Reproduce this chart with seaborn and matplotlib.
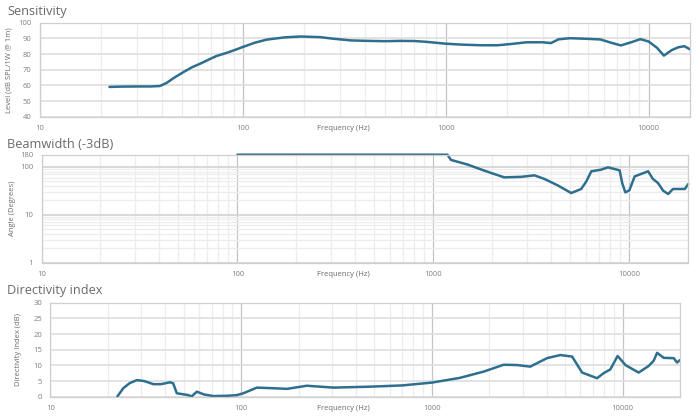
import numpy as np
import pandas as pd
import matplotlib
matplotlib.use("Agg")
import matplotlib.pyplot as plt
import matplotlib.ticker as mticker
import seaborn as sns

# ---- data ----
sens_freq = [22, 25, 30, 35, 39, 42, 46, 51, 56, 62, 68, 74, 82, 90, 100, 115, 131, 160, 192, 240,
             278, 340, 410, 500, 600, 700, 800, 1000, 1200, 1500, 1800, 2100, 2500, 3000, 3300, 3600,
             4100, 5000, 5800, 6500, 7300, 8200, 9100, 10000, 11000, 11900, 13000, 14000, 15000, 16000]
sens_level = [59, 59.2, 59.3, 59.3, 59.6, 61.5, 65, 68.5, 71.5, 74, 76.5, 78.7, 80.5, 82.3, 84.5, 87.3,
              89.2, 90.6, 91.2, 90.8, 89.8, 88.7, 88.4, 88.2, 88.4, 88.3, 87.8, 86.6, 86.0, 85.6, 85.6,
              86.4, 87.5, 87.5, 87.0, 89.4, 90.1, 89.7, 89.3, 87.3, 85.5, 87.5, 89.5, 88.0, 84.0, 79.0,
              82.5, 84.3, 85.0, 83.0]

beam_freq = [100, 200, 500, 1000, 1180, 1230, 1496, 1820, 2300, 2800, 3280, 3690, 4320, 5050, 5680,
             6030, 6400, 7190, 7780, 8920, 9200, 9540, 10000, 10650, 12470, 13200, 14020, 14870, 15780,
             16700, 19190, 20000]
beam_angle = [180, 180, 180, 180, 180, 140, 112, 83.6, 60.5, 62, 66.7, 56, 41, 28.5, 34.6,
              49.7, 81, 87.8, 98, 85, 46, 29.4, 32.3, 63.5, 81, 56, 46, 32, 27.2,
              34.6, 34.6, 44]

di_freq = [22.4, 24.1, 26, 28.4, 31, 34.7, 38, 42.4, 44, 46, 52.9, 55, 58.6, 64, 71.6, 85, 94.9, 102.8,
           120.8, 148, 174, 221, 305, 475, 700, 1000, 1400, 1867, 2380, 2800, 3280, 4015, 4720, 5440,
           6135, 7350, 7950, 8620, 9420, 10350, 12140, 13700, 14560, 15170, 16430, 18550, 19300, 20000]
di_value = [0, 2.7, 4.3, 5.3, 5.0, 4.0, 4.0, 4.6, 4.3, 1.1, 0.5, 0.1, 1.6, 0.7, 0.2, 0.3, 0.5, 1.1,
            2.9, 2.7, 2.5, 3.5, 2.9, 3.2, 3.6, 4.5, 6.0, 8.0, 10.2, 10.1, 9.6, 12.3, 13.3, 12.8,
            7.7, 5.9, 7.5, 8.7, 13.0, 10.1, 7.7, 9.8, 11.5, 14.0, 12.4, 12.3, 10.9, 11.7]

x_ticks = [10, 100, 1000, 10000]
sens_yticks = [40, 50, 60, 70, 80, 90, 100]
beam_yticks = [1, 10, 100, 180]
di_yticks = [0, 5, 10, 15, 20, 25, 30]

sns.set_style("white")
plt.rcParams['font.family'] = ['Open Sans', 'DejaVu Sans']

LINE = '#2e6e8e'
TXT = '#6a6a6a'
TICK = '#808080'

fig = plt.figure(figsize=(7.0, 4.19), dpi=100)
W, H = 700.0, 419.0

def make_ax(l, r, t, b):
    return fig.add_axes([l / W, 1 - b / H, (r - l) / W, (b - t) / H])

ax1 = make_ax(40, 690, 22.7, 116.7)
ax2 = make_ax(41.5, 688.3, 154.7, 262.7)
ax3 = make_ax(50.4, 680, 302.7, 396.7)

def style(ax, xmax, ylabel, title, title_y):
    ax.set_xscale('log')
    ax.set_xlim(10, xmax)
    ax.xaxis.set_major_locator(mticker.FixedLocator(x_ticks))
    ax.xaxis.set_major_formatter(mticker.FixedFormatter([str(v) for v in x_ticks]))
    ax.xaxis.set_minor_locator(mticker.LogLocator(base=10, subs=np.arange(2, 10), numticks=20))
    ax.xaxis.set_minor_formatter(mticker.NullFormatter())
    ax.grid(True, which='major', axis='x', color='#c4c4c4', lw=0.9)
    ax.grid(True, which='minor', axis='x', color='#ededed', lw=0.9)
    ax.grid(True, which='major', axis='y', color='#dedede', lw=1.2)
    ax.tick_params(axis='both', which='both', length=0, labelsize=5.5, labelcolor=TICK, pad=6)
    for s in ax.spines.values():
        s.set_color('#cfcfcf')
        s.set_linewidth(0.9)
    ax.set_xlabel('Frequency (Hz)', fontsize=5.5, color=TXT, va='center')
    x0 = ax.get_position().x0 * W
    w = ax.get_position().width * W
    ax.xaxis.set_label_coords((343 - x0) / w, -0.13)
    ax.set_ylabel(ylabel, fontsize=5.5, color=TXT)
    ax.set_axisbelow(True)
    fig.text(7 / W, 1 - title_y / H, title, fontsize=9.2, color=TXT, va='center', ha='left')

# Sensitivity
df1 = pd.DataFrame({'Frequency': sens_freq, 'Level': sens_level})
sns.lineplot(data=df1, x='Frequency', y='Level', ax=ax1, color=LINE, lw=1.8)
ax1.set_ylim(40, 100)
ax1.set_yticks(sens_yticks)
style(ax1, 16000, 'Level (dB SPL/1W @ 1m)', 'Sensitivity', 11)
ax1.yaxis.set_label_coords(-0.043, 0.5)

# Beamwidth
df2 = pd.DataFrame({'Frequency': beam_freq, 'Angle': beam_angle})
sns.lineplot(data=df2, x='Frequency', y='Angle', ax=ax2, color=LINE, lw=1.8)
for ln in ax2.lines:
    ln.set_clip_on(False)
ax2.set_yscale('log')
ax2.set_ylim(1, 180)
ax2.yaxis.set_major_locator(mticker.FixedLocator(beam_yticks))
ax2.yaxis.set_major_formatter(mticker.FixedFormatter([str(v) for v in beam_yticks]))
ax2.yaxis.set_minor_locator(mticker.LogLocator(base=10, subs=np.arange(2, 10), numticks=20))
ax2.yaxis.set_minor_formatter(mticker.NullFormatter())
style(ax2, 20000, 'Angle (Degrees)', 'Beamwidth (-3dB)', 144)
ax2.grid(True, which='minor', axis='y', color='#ededed', lw=0.9)
ax2.grid(True, which='major', axis='y', color='#d2d2d2', lw=1.2)
ax2.yaxis.set_label_coords(-0.04, 0.5)
ax2.xaxis.set_label_coords((343 - 41.5) / 646.8, -0.11)

# Directivity index
df3 = pd.DataFrame({'Frequency': di_freq, 'DI': di_value})
sns.lineplot(data=df3, x='Frequency', y='DI', ax=ax3, color=LINE, lw=1.8)
ax3.set_ylim(0, 30)
ax3.set_yticks(di_yticks)
style(ax3, 20000, 'Directivity Index (dB)', 'Directivity index', 290)
ax3.yaxis.set_label_coords(-0.045, 0.5)

fig.savefig('out.png', dpi=100)
